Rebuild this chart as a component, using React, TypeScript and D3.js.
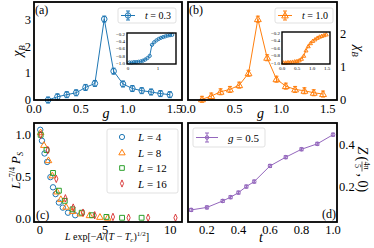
import { useEffect, useRef } from "react"
import * as d3 from "d3"

// (a), (b): chi_B vs g
const gValues = [0.15, 0.25, 0.35, 0.45, 0.55, 0.65, 0.75, 0.85, 0.95, 1.05, 1.15, 1.25, 1.35, 1.45]
const chiT03 = [0.0, 0.12, 0.2, 0.27, 0.47, 0.62, 3.03, 1.08, 0.6, 0.43, 0.35, 0.3, 0.24, 0.2]
const chiT10 = [0.02, 0.12, 0.25, 0.32, 0.45, 0.81, 2.45, 1.28, 0.63, 0.42, 0.32, 0.28, 0.22, 0.18]

// insets
const gInset = [0.05, 0.125, 0.2, 0.275, 0.35, 0.425, 0.5, 0.575, 0.65, 0.725, 0.8, 0.875, 0.95, 1.025, 1.1, 1.175, 1.25, 1.325, 1.4, 1.475]
const insetT03 = [-0.98, -0.98, -0.97, -0.97, -0.96, -0.95, -0.93, -0.9, -0.86, -0.8, -0.5, -0.43, -0.38, -0.34, -0.31, -0.29, -0.27, -0.25, -0.24, -0.23]
const insetT10 = [-0.98, -0.98, -0.97, -0.97, -0.96, -0.95, -0.94, -0.92, -0.88, -0.8, -0.66, -0.55, -0.47, -0.41, -0.37, -0.33, -0.3, -0.28, -0.26, -0.24]
const insetYTicks = [-0.2, -0.4, -0.6, -0.8, -1.0]

// (c): scaling collapse
const xL4 = [0.02, 0.15, 0.35, 0.55, 0.8, 1.0, 1.2, 1.45, 1.75, 2.15, 2.7]
const yL4 = [1.06, 0.93, 0.78, 0.68, 0.5, 0.38, 0.3, 0.2, 0.14, 0.08, 0.05]
const xL8 = [0.05, 0.3, 0.65, 0.95, 1.3, 1.6, 2.0, 2.5, 3.1, 3.8, 4.6, 5.2]
const yL8 = [1.03, 0.88, 0.7, 0.52, 0.33, 0.24, 0.15, 0.1, 0.07, 0.05, 0.03, 0.02]
const xL12 = [0.05, 0.5, 1.0, 1.45, 1.9, 2.5, 3.2, 4.0, 5.1, 6.3, 7.8]
const yL12 = [1.0, 0.82, 0.55, 0.34, 0.22, 0.12, 0.08, 0.05, 0.03, 0.02, 0.02]
const xL16 = [0.05, 0.6, 1.25, 1.95, 2.55, 3.3, 4.2, 5.6, 6.8, 8.3, 10.4]
const yL16 = [1.0, 0.82, 0.48, 0.25, 0.14, 0.08, 0.05, 0.03, 0.02, 0.02, 0.02]
const sizesL = ["4", "8", "12", "16"]

// (d): Z(4pi/5, 0) vs t at g = 0.5
const tValues = [0.1, 0.2, 0.3, 0.35, 0.4, 0.45, 0.5, 0.6, 0.7, 0.8, 0.9, 1.0]
const zValues = [0.088, 0.1, 0.131, 0.149, 0.171, 0.2, 0.224, 0.299, 0.341, 0.379, 0.405, 0.449]

const FONT = "Liberation Serif, DejaVu Serif, serif"
const TICK = 12.5
const BLUE = "#1f77b4", ORANGE = "#ff7f0e", GREEN = "#2ca02c", RED = "#d62728", PURPLE = "#9467bd"

type Part = { t: string, it?: boolean, shift?: number, size?: number }

const richText = (g, x, y, parts: Part[], size, anchor = "start") => {
    const txt = g.append("text")
        .attr("x", x).attr("y", y)
        .attr("font-family", FONT).attr("font-size", size)
        .attr("text-anchor", anchor).attr("fill", "black")
    let cur = 0
    parts.forEach(p => {
        const s = p.shift || 0
        txt.append("tspan")
            .attr("dy", s - cur)
            .attr("font-style", p.it ? "italic" : "normal")
            .attr("font-size", p.size || size)
            .text(p.t)
        cur = s
    })
    return txt
}

const marker = (g, kind, cx, cy, r, color, sw = 1) => {
    if (kind === "circle") {
        g.append("circle").attr("cx", cx).attr("cy", cy).attr("r", r)
            .attr("fill", "none").attr("stroke", color).attr("stroke-width", sw)
    } else {
        const sym = kind === "triangle" ? d3.symbolTriangle : kind === "square" ? d3.symbolSquare : d3.symbolDiamond
        const area = kind === "triangle" ? r * r * 2.6 : kind === "square" ? r * r * 3.2 : r * r * 2.2
        g.append("path")
            .attr("d", d3.symbol(sym, area)())
            .attr("transform", `translate(${cx},${cy + (kind === "triangle" ? 0.5 : 0)})${kind === "diamond" ? " scale(0.75,1)" : ""}`)
            .attr("fill", "none").attr("stroke", color).attr("stroke-width", sw)
    }
}

const errMark = (g, cx, cy, color, h) => {
    g.append("line").attr("x1", cx).attr("x2", cx).attr("y1", cy - h).attr("y2", cy + h)
        .attr("stroke", color).attr("stroke-width", 1)
    ;[cy - h, cy + h].forEach(yy => g.append("line")
        .attr("x1", cx - 2).attr("x2", cx + 2).attr("y1", yy).attr("y2", yy)
        .attr("stroke", color).attr("stroke-width", 1))
}

const frame = (g, x0, x1, y0, y1, sw = 1.8) => {
    g.append("rect").attr("x", x0).attr("y", y0).attr("width", x1 - x0).attr("height", y1 - y0)
        .attr("fill", "none").attr("stroke", "black").attr("stroke-width", sw)
}

const legendBox = (g, x0, x1, y0, y1) => {
    g.append("rect").attr("x", x0).attr("y", y0).attr("width", x1 - x0).attr("height", y1 - y0)
        .attr("rx", 2).attr("fill", "white").attr("fill-opacity", 0.85)
        .attr("stroke", "#d9d9d9").attr("stroke-width", 0.8)
}

const drawSeries = (g, xs, ys, x, y, color, kind, r, withLine = true, err = 0) => {
    if (withLine) {
        g.append("path")
            .attr("d", d3.line<number>().x((_, i) => x(xs[i])).y(d => y(d))(ys))
            .attr("fill", "none").attr("stroke", color).attr("stroke-width", 1)
    }
    ys.forEach((v, i) => {
        if (err) errMark(g, x(xs[i]), y(v), color, err)
        marker(g, kind, x(xs[i]), y(v), r, color)
    })
}

const drawChiPanel = (svg, opts) => {
    const { left, right, top, bottom, xDomain, yDomain, ys, color, kind, yTicks, yRight, tag, legendX, legendLabel, inset } = opts
    const g = svg.append("g")
    const x = d3.scaleLinear(xDomain, [left, right])
    const y = d3.scaleLinear(yDomain, [bottom, top])

    drawSeries(g, gValues, ys, x, y, color, kind, 2.8, true, 3)

    // inset
    const ix = d3.scaleLinear(inset.xDomain, [inset.left, inset.right])
    const iy = d3.scaleLinear([-1.02, -0.18], [inset.bottom, inset.top])
    g.append("rect").attr("x", inset.left).attr("y", inset.top)
        .attr("width", inset.right - inset.left).attr("height", inset.bottom - inset.top).attr("fill", "white")
    drawSeries(g, gInset, inset.ys, ix, iy, color, kind, 1.6, true)
    frame(g, inset.left, inset.right, inset.top, inset.bottom, 1.4)
    insetYTicks.forEach(v => g.append("text")
        .attr("x", inset.left - 2).attr("y", iy(v) + 1.8)
        .attr("text-anchor", "end").attr("font-family", FONT).attr("font-size", 5)
        .text(v.toFixed(1).replace("-", "\u2212")))
    inset.xTicks.forEach(v => g.append("text")
        .attr("x", ix(v)).attr("y", inset.bottom + 6)
        .attr("text-anchor", "middle").attr("font-family", FONT).attr("font-size", 5)
        .text(inset.xFmt(v)))

    // legend
    legendBox(g, legendX, legendX + 58, 8, 23)
    g.append("line").attr("x1", legendX + 3).attr("x2", legendX + 17).attr("y1", 15.5).attr("y2", 15.5)
        .attr("stroke", color).attr("stroke-width", 1)
    errMark(g, legendX + 10, 15.5, color, 4.5)
    marker(g, kind, legendX + 10, 15.5, 2.7, color)
    richText(g, legendX + 27, 19, [{ t: "t", it: true }, { t: " = " + legendLabel }], 10)

    frame(g, left, right, top, bottom)

    // x ticks
    ;[0, 0.5, 1.0, 1.5].forEach(v => g.append("text")
        .attr("x", x(v)).attr("y", bottom + 13)
        .attr("text-anchor", "middle").attr("font-family", FONT).attr("font-size", TICK)
        .text(v.toFixed(1)))
    richText(g, (left + right) / 2 - 2, bottom + 18, [{ t: "g", it: true }], 14, "middle")

    // y ticks
    yTicks.forEach(v => g.append("text")
        .attr("x", yRight ? right + 3 : left - 3).attr("y", y(v) + 4)
        .attr("text-anchor", yRight ? "start" : "end").attr("font-family", FONT).attr("font-size", TICK)
        .text(v))
    const lx = yRight ? right + 22 : left - 16
    const lg = g.append("g").attr("transform", `translate(${lx},${(top + bottom) / 2}) rotate(${yRight ? 90 : -90})`)
    richText(lg, 0, 4, [{ t: "\u03c7", it: true }, { t: "B", it: true, shift: 3, size: 9 }], 14, "middle")

    g.append("text").attr("x", left + 1).attr("y", top + 12)
        .attr("font-family", FONT).attr("font-size", 12).text(tag)
}

export default function App() {
    const svgRef = useRef<SVGSVGElement>(null)

    useEffect(() => {
        const svg = d3.select(svgRef.current)
        svg.selectAll("*").remove()
        svg.append("rect").attr("width", 374).attr("height", 248).attr("fill", "white")

        drawChiPanel(svg, {
            left: 34, right: 182, top: 2, bottom: 100, xDomain: [0, 1.58], yDomain: [0, 3.67],
            ys: chiT03, color: BLUE, kind: "circle", yTicks: [0, 1, 2, 3], yRight: false, tag: "(a)",
            legendX: 118, legendLabel: "0.3",
            inset: { left: 127, right: 176, top: 33, bottom: 64, xDomain: [-0.03, 1.6], ys: insetT03, xTicks: [0, 1], xFmt: v => String(v) }
        })
        drawChiPanel(svg, {
            left: 188, right: 337, top: 2, bottom: 100, xDomain: [0, 1.6], yDomain: [0, 2.97],
            ys: chiT10, color: ORANGE, kind: "triangle", yTicks: [0, 1, 2], yRight: true, tag: "(b)",
            legendX: 275, legendLabel: "1.0",
            inset: { left: 282, right: 330, top: 32, bottom: 64, xDomain: [0, 1.6], ys: insetT10, xTicks: [0, 0.5, 1, 1.5], xFmt: v => v.toFixed(1) }
        })

        // (c)
        {
            const left = 34, right = 182, top = 123, bottom = 222
            const g = svg.append("g")
            const x = d3.scaleLinear([-0.46, 10.9], [left, right])
            const y = d3.scaleLinear([-0.03, 1.14], [bottom, top])
            const series = [
                { xs: xL4, ys: yL4, color: BLUE, kind: "circle" },
                { xs: xL8, ys: yL8, color: ORANGE, kind: "triangle" },
                { xs: xL12, ys: yL12, color: GREEN, kind: "square" },
                { xs: xL16, ys: yL16, color: RED, kind: "diamond" },
            ]
            series.forEach(s => drawSeries(g, s.xs, s.ys, x, y, s.color, s.kind, 2.7, false))

            legendBox(g, 107, 178, 129, 193)
            series.forEach((s, i) => {
                const yy = 137 + i * 15.5
                marker(g, s.kind, 122, yy, 2.6, s.color)
                richText(g, 138, yy + 4, [{ t: "L", it: true }, { t: " = " + sizesL[i] }], 11)
            })

            frame(g, left, right, top, bottom)
            ;[0, 5, 10].forEach(v => g.append("text")
                .attr("x", x(v)).attr("y", bottom + 12)
                .attr("text-anchor", "middle").attr("font-family", FONT).attr("font-size", TICK)
                .text(v))
            ;[0, 0.5, 1.0].forEach(v => g.append("text")
                .attr("x", left - 3).attr("y", y(v) + 4)
                .attr("text-anchor", "end").attr("font-family", FONT).attr("font-size", TICK)
                .text(v.toFixed(1)))
            richText(g, 107, 240, [
                { t: "L", it: true }, { t: " exp[\u2212" }, { t: "A", it: true }, { t: "/(" }, { t: "T", it: true },
                { t: " \u2212 " }, { t: "T", it: true }, { t: "c", it: true, shift: 2, size: 7 }, { t: ")", shift: 0 },
                { t: "1/2", shift: -4, size: 7 }, { t: "]", shift: 0 }
            ], 10, "middle")
            const lg = g.append("g").attr("transform", `translate(16,${(top + bottom) / 2 - 2}) rotate(-90)`)
            richText(lg, 0, 4, [
                { t: "L", it: true }, { t: "\u22127/4", shift: -5, size: 8 }, { t: " P", it: true, shift: 0 },
                { t: "S", it: true, shift: 3, size: 8 }
            ], 13, "middle")
            g.append("text").attr("x", left + 2).attr("y", bottom - 3)
                .attr("font-family", FONT).attr("font-size", 12).text("(c)")
        }

        // (d)
        {
            const left = 188, right = 337, top = 123, bottom = 222
            const g = svg.append("g")
            const x = d3.scaleLinear([0.08, 1.025], [left, right])
            const y = d3.scaleLinear([0.03, 0.505], [bottom, top])
            drawSeries(g, tValues, zValues, x, y, PURPLE, "circle", 1.8, true, 1.5)

            legendBox(g, 193, 265, 128, 147)
            g.append("line").attr("x1", 196).attr("x2", 218).attr("y1", 137.5).attr("y2", 137.5)
                .attr("stroke", PURPLE).attr("stroke-width", 1)
            errMark(g, 207, 137.5, PURPLE, 4.5)
            marker(g, "circle", 207, 137.5, 1.8, PURPLE)
            richText(g, 228, 141.5, [{ t: "g", it: true }, { t: " = 0.5" }], 11)

            frame(g, left, right, top, bottom)
            ;[0.2, 0.4, 0.6, 0.8, 1.0].forEach(v => g.append("text")
                .attr("x", x(v)).attr("y", bottom + 12)
                .attr("text-anchor", "middle").attr("font-family", FONT).attr("font-size", TICK)
                .text(v.toFixed(1)))
            ;[0.2, 0.4].forEach(v => g.append("text")
                .attr("x", right + 2).attr("y", y(v) + 4)
                .attr("text-anchor", "start").attr("font-family", FONT).attr("font-size", TICK)
                .text(v.toFixed(1)))
            richText(g, 261, 242, [{ t: "t", it: true }], 14, "middle")

            // right label Z(4pi/5, 0)
            const lg = g.append("g").attr("transform", `translate(362,${(top + bottom) / 2 + 2}) rotate(90)`)
            const txt = (xx, yy, s, size, it = false) => lg.append("text").attr("x", xx).attr("y", yy)
                .attr("font-family", FONT).attr("font-size", size).attr("font-style", it ? "italic" : "normal").text(s)
            txt(-28, 4, "Z", 14, true)
            txt(-18, 4, "(", 14)
            txt(-13, -2, "4\u03c0", 8)
            lg.append("line").attr("x1", -13).attr("x2", -3).attr("y1", 0).attr("y2", 0).attr("stroke", "black").attr("stroke-width", 0.6)
            txt(-10.5, 7.5, "5", 8)
            txt(-1, 4, ", 0)", 14)

            g.append("text").attr("x", right - 1).attr("y", bottom - 4).attr("text-anchor", "end")
                .attr("font-family", FONT).attr("font-size", 12).text("(d)")
        }
    }, [])

    return <svg ref={svgRef} width={374} height={248} style={{ position: "absolute", left: 0, top: 0 }} />
}
